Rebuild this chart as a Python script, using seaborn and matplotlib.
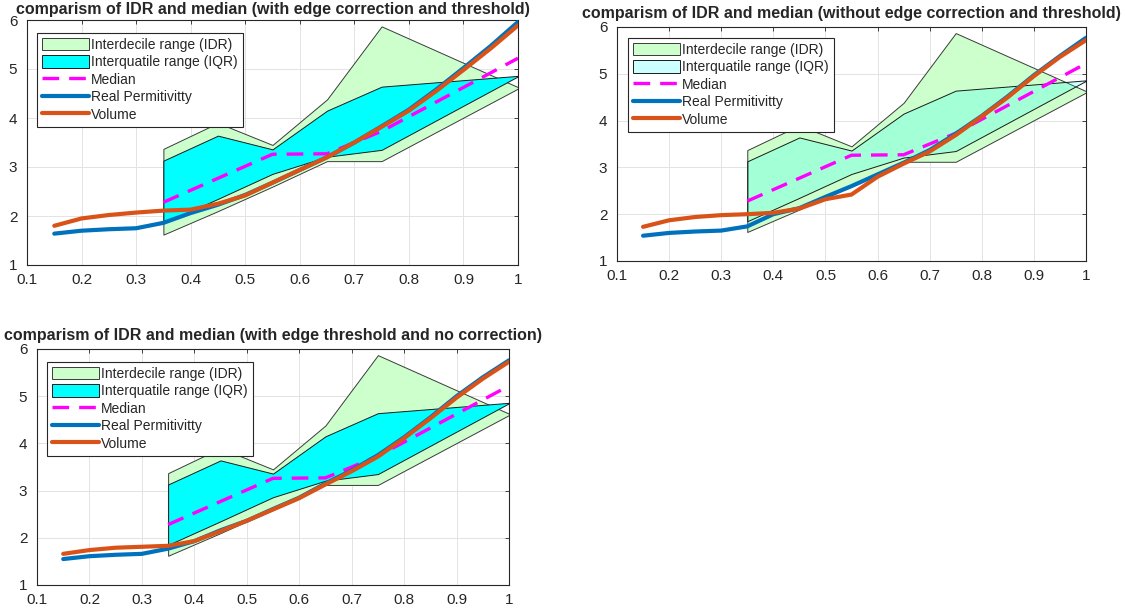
import matplotlib
matplotlib.use("Agg")
import matplotlib.pyplot as plt
import seaborn as sns
import numpy as np

# percentile bands (same in all three panels)
x_band = [0.35, 0.45, 0.55, 0.65, 0.75, 1.0]
idr_low = [1.62, 2.1, 2.6, 3.12, 3.12, 4.6]
idr_high = [3.37, 3.9, 3.45, 4.38, 5.87, 4.63]
iqr_low = [1.85, 2.35, 2.86, 3.21, 3.35, 4.85]
iqr_high = [3.13, 3.64, 3.36, 4.15, 4.64, 4.86]
median = [2.28, 2.77, 3.26, 3.27, 3.73, 5.22]

# curves
x_curve = [0.15, 0.2, 0.25, 0.3, 0.35, 0.4, 0.45, 0.5, 0.55,
           0.6, 0.65, 0.7, 0.75, 0.8, 0.85, 0.9, 0.95, 1.0]

perm_1 = [1.64, 1.70, 1.73, 1.75, 1.86, 2.06, 2.23, 2.43, 2.68,
          2.94, 3.2, 3.5, 3.83, 4.17, 4.58, 5.02, 5.47, 5.96]
vol_1 = [1.80, 1.95, 2.02, 2.07, 2.11, 2.13, 2.25, 2.42, 2.68,
         2.94, 3.2, 3.5, 3.82, 4.15, 4.55, 4.98, 5.42, 5.89]

perm_2 = [1.54, 1.60, 1.63, 1.65, 1.74, 2.0, 2.13, 2.37, 2.6,
          2.85, 3.1, 3.37, 3.72, 4.1, 4.52, 4.97, 5.38, 5.77]
vol_2 = [1.73, 1.87, 1.94, 1.98, 2.0, 2.03, 2.12, 2.32, 2.42,
         2.8, 3.08, 3.34, 3.69, 4.09, 4.5, 4.95, 5.36, 5.72]

perm_3 = [1.55, 1.61, 1.64, 1.66, 1.77, 1.93, 2.16, 2.36, 2.61,
          2.85, 3.15, 3.43, 3.75, 4.13, 4.55, 5.0, 5.4, 5.76]
vol_3 = [1.66, 1.74, 1.79, 1.81, 1.83, 1.93, 2.14, 2.36, 2.6,
         2.84, 3.13, 3.41, 3.72, 4.11, 4.53, 4.97, 5.37, 5.73]

titles = [
    "comparism of IDR and median (with edge correction and threshold)",
    "comparism of IDR and median (without edge correction and threshold)",
    "comparism of IDR and median (with edge threshold and no correction)",
]
x_ticks = [0.1, 0.2, 0.3, 0.4, 0.5, 0.6, 0.7, 0.8, 0.9, 1.0]
x_labels = ["0.1", "0.2", "0.3", "0.4", "0.5", "0.6", "0.7", "0.8", "0.9", "1"]
y_ticks = [1, 2, 3, 4, 5, 6]

sns.set_style("whitegrid", {"grid.color": "#e3e3e3", "axes.edgecolor": "#262626"})
plt.rcParams['font.family'] = ['Liberation Sans', 'DejaVu Sans']

W, H = 1125, 613
fig = plt.figure(figsize=(W / 100, H / 100), dpi=100)


def px_axes(left, top, right, bottom):
    return fig.add_axes([left / W, 1 - bottom / H, (right - left) / W, (bottom - top) / H])


def draw_panel(ax, title, perm, vol, iqr_color, leg_xy, title_pad):
    ax.fill_between(x_band, idr_low, idr_high, facecolor="#ccffcc",
                    edgecolor="#3a3a3a", linewidth=0.7, label="Interdecile range (IDR)", zorder=2)
    ax.fill_between(x_band, iqr_low, iqr_high, facecolor=iqr_color,
                    edgecolor="#1a1a1a", linewidth=0.7, label="Interquatile range (IQR)", zorder=3)
    sns.lineplot(x=x_band, y=median, ax=ax, color="#ff00ff", linewidth=2.4,
                 linestyle=(0, (5, 3)), label="Median", zorder=4)
    sns.lineplot(x=x_curve, y=perm, ax=ax, color="#0072bd", linewidth=3.0,
                 label="Real Permitivitty", zorder=5)
    sns.lineplot(x=x_curve, y=vol, ax=ax, color="#d95319", linewidth=3.0,
                 label="Volume", zorder=6)

    ax.set_xlim(0.1, 1.0)
    ax.set_ylim(1, 6)
    ax.set_xticks(x_ticks)
    ax.set_xticklabels(x_labels)
    ax.set_yticks(y_ticks)
    ax.tick_params(axis="both", labelsize=11, colors="#262626", direction="in",
                   length=3, width=0.6, top=True, right=True)
    ax.tick_params(axis="x", pad=6)
    ax.tick_params(axis="y", pad=7)
    ax.grid(True, linewidth=0.7, color="#e3e3e3")
    for s in ax.spines.values():
        s.set_linewidth(0.8)
        s.set_color("#262626")
    ax.set_title(title, fontsize=11.5, fontweight="bold", pad=title_pad)

    leg = ax.legend(loc="upper left", bbox_to_anchor=(leg_xy[0] / W, 1 - leg_xy[1] / H),
                    bbox_transform=fig.transFigure, fontsize=10, frameon=True,
                    fancybox=False, handlelength=3.4, handleheight=1.0,
                    handletextpad=0.15, labelspacing=0.25, borderpad=0.35,
                    borderaxespad=0)
    leg.get_frame().set_edgecolor("#262626")
    leg.get_frame().set_linewidth(0.8)
    leg.get_frame().set_alpha(1)


ax1 = px_axes(27, 20, 518, 265)
draw_panel(ax1, titles[0], perm_1, vol_1, "#00ffff", (37, 33), 4)

ax2 = px_axes(617, 27, 1086, 261)
draw_panel(ax2, titles[1], perm_2, vol_2, (0, 1, 1, 0.2), (628, 38), 6.5)

ax3 = px_axes(37, 349, 509, 585)
draw_panel(ax3, titles[2], perm_3, vol_3, "#00ffff", (47, 362), 6.5)

fig.savefig("out.png", dpi=100)
